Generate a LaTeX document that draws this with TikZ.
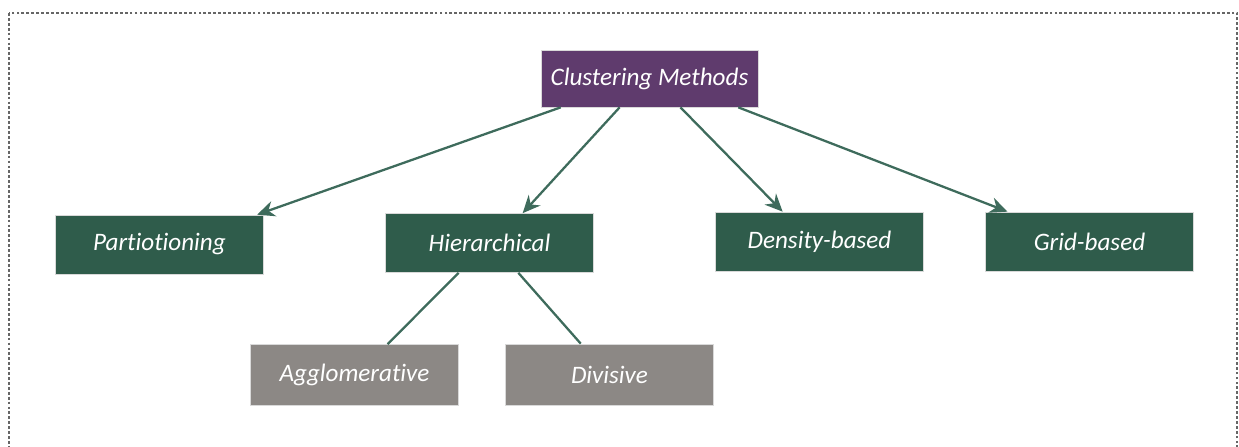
\documentclass[tikz,border=0pt]{standalone}
\usepackage{fontspec}
\setsansfont{Carlito}[Ligatures={NoCommon,NoRequired,NoContextual}]
\usetikzlibrary{arrows.meta}
\definecolor{methpurple}{HTML}{5F3B6D}
\definecolor{methgreen}{HTML}{2F5C4B}
\definecolor{methgray}{HTML}{8C8885}
\definecolor{linkgreen}{HTML}{3E6B5C}
\tikzset{
  box/.style={draw=white!85!black,line width=0.4pt,text=white,font=\sffamily\itshape\fontsize{14.3}{16}\selectfont,
    minimum height=1.18cm,inner sep=0pt},
  topbox/.style={box,fill=methpurple,minimum width=4.34cm,minimum height=1.14cm},
  mainbox/.style={box,fill=methgreen,minimum width=4.16cm},
  subbox/.style={box,fill=methgray,minimum width=4.16cm,minimum height=1.22cm},
  link/.style={draw=linkgreen,line width=1.3pt},
  arrowlink/.style={link,-{Stealth[length=10pt,width=9pt]}}
}
\begin{document}
\begin{tikzpicture}[x=0.02cm,y=-0.02cm]
  \clip (0,0) rectangle (1239,446);
  \draw[black!60,line width=0.8pt,dash pattern=on 1.6pt off 1.2pt] (9,13) rectangle (1237,480);

  \node[topbox]  (cm)   at (649.5,78.5) {Clustering Methods};
  \node[mainbox] (part) at (159.5,244.5) {Partiotioning};
  \node[mainbox] (hier) at (489.5,243)   {Hierarchical};
  \node[mainbox] (dens) at (819.5,241.5) {Density-based};
  \node[mainbox] (grid) at (1089.5,241.5) {Grid-based};
  \node[subbox]  (agg)  at (354.5,375)   {Agglomerative};
  \node[subbox]  (div)  at (609.5,374.5) {Divisive};

  \draw[arrowlink] (cm.-162.3) -- (part.17.7);
  \draw[arrowlink] (cm.-136)   -- (hier.42.7);
  \draw[arrowlink] (cm.-43)    -- (dens.141.8);
  \draw[arrowlink] (cm.-18.8)  -- (grid.160.8);

  \draw[link] (hier.-136.4) -- (agg.43.6);
  \draw[link] (hier.-46.5)  -- (div.133);
\end{tikzpicture}
\end{document}
